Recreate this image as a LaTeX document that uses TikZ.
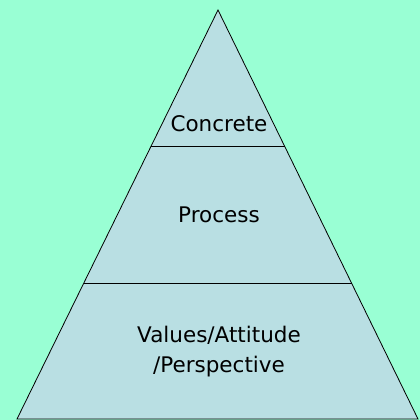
\documentclass[tikz,border=0pt]{standalone}
\usepackage{fontspec}
\setmainfont{DejaVu Sans}
\definecolor{bgc}{RGB}{153,255,212}
\definecolor{pyr}{RGB}{185,223,227}
\begin{document}
\begin{tikzpicture}[x=1pt,y=-1pt,
  lbl/.style={font=\fontsize{21.5}{30}\selectfont, align=center, inner sep=0pt, text=black}]
\fill[bgc] (0,0) rectangle (420,420);
\useasboundingbox (0,0) rectangle (420,420);
\coordinate (apex) at (218,10);
\coordinate (bl) at (17,419);
\coordinate (br) at (418,419);
\coordinate (l1) at (151,146);
\coordinate (r1) at (285,146);
\coordinate (l2) at (84,283);
\coordinate (r2) at (352,283);
\draw[fill=pyr, line width=0.8pt, line join=miter] (apex) -- (br) -- (bl) -- cycle;
\draw[line width=0.8pt] (l1) -- (r1);
\draw[line width=0.8pt] (l2) -- (r2);
\node[lbl] (concrete) at (219,124) {Concrete};
\node[lbl] (process) at (219,215) {Process};
\node[lbl] (values) at (219,352) {Values/Attitude\\/Perspective};
\end{tikzpicture}
\end{document}
